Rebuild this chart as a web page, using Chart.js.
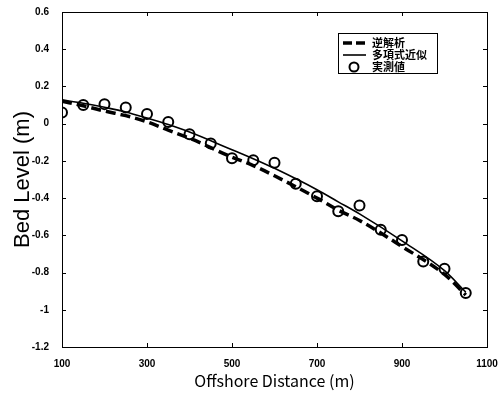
<!DOCTYPE html>
<html>
<head>
<meta charset="utf-8">
<script src="https://cdn.jsdelivr.net/npm/chart.js@4.4.1/dist/chart.umd.min.js"></script>
<style>
  html, body { margin: 0; padding: 0; background: #fff; }
  #wrap { width: 504px; height: 393px; }
</style>
</head>
<body>
<div id="wrap"><canvas id="chart"></canvas></div>
<script>
// offshore distance (m) of each survey point
const distances = [100, 150, 200, 250, 300, 350, 400, 450, 500, 550,
                   600, 650, 700, 750, 800, 850, 900, 950, 1000, 1050];
// 実測値 (measured bed level, m)
const measured = [0.06, 0.10, 0.105, 0.087, 0.052, 0.009, -0.057, -0.107, -0.186, -0.197,
                  -0.21, -0.323, -0.39, -0.47, -0.44, -0.57, -0.625, -0.74, -0.78, -0.91];
// 逆解析 (inverse analysis)
const inverseX = [100, 150, 200, 250, 300, 350, 400, 500, 550, 600, 700, 750, 800, 900, 1000, 1050];
const inverseY = [0.12, 0.096, 0.068, 0.043, 0.01, -0.035, -0.078, -0.18, -0.225, -0.28, -0.40, -0.465, -0.52, -0.66, -0.81, -0.92];
// 多項式近似 (polynomial fit)
const polyX = [100, 150, 200, 250, 300, 350, 400, 500, 550, 600, 700, 750, 800, 900, 1000, 1050];
const polyY = [0.128, 0.11, 0.088, 0.063, 0.03, -0.005, -0.045, -0.14, -0.188, -0.24, -0.355, -0.42, -0.485, -0.63, -0.79, -0.905];

const xTicks = [100, 300, 500, 700, 900, 1100];
const yTicks = [0.6, 0.4, 0.2, 0, -0.2, -0.4, -0.6, -0.8, -1, -1.2];

const legendLabels = ['逆解析', '多項式近似', '実測値'];

const toPoints = (xs, ys) => xs.map((x, i) => ({ x: x, y: ys[i] }));

const tickFont = { family: 'Liberation Sans, Arial, sans-serif', size: 10, weight: 'bold' };

// frame + inward ticks + boxed legend
const framePlugin = {
    id: 'frame',
    afterDraw(chart) {
        const ctx = chart.ctx;
        const a = chart.chartArea;
        const xs = chart.scales.x;
        const ys = chart.scales.y;
        ctx.save();
        ctx.strokeStyle = '#000';
        ctx.lineWidth = 1;
        ctx.strokeRect(a.left + 0.5, a.top + 0.5, a.right - a.left, a.bottom - a.top);
        ctx.beginPath();
        xTicks.forEach(v => {
            const px = Math.round(xs.getPixelForValue(v)) + 0.5;
            ctx.moveTo(px, a.bottom); ctx.lineTo(px, a.bottom - 4);
            ctx.moveTo(px, a.top); ctx.lineTo(px, a.top + 4);
        });
        yTicks.forEach(v => {
            const py = Math.round(ys.getPixelForValue(v)) + 0.5;
            ctx.moveTo(a.left, py); ctx.lineTo(a.left + 4, py);
            ctx.moveTo(a.right, py); ctx.lineTo(a.right - 4, py);
        });
        ctx.stroke();

        // legend box
        const bx = 338, by = 33, bw = 99, bh = 40;
        ctx.fillStyle = '#fff';
        ctx.fillRect(bx, by, bw, bh);
        ctx.strokeRect(bx + 0.5, by + 0.5, bw, bh);
        const ds = chart.data.datasets;
        const rows = [by + 10, by + 22, by + 34];
        // dashed
        ctx.lineWidth = ds[0].borderWidth;
        ctx.setLineDash([9, 4]);
        ctx.beginPath(); ctx.moveTo(343, rows[0]); ctx.lineTo(367, rows[0]); ctx.stroke();
        ctx.setLineDash([]);
        ctx.lineWidth = ds[1].borderWidth;
        ctx.beginPath(); ctx.moveTo(343, rows[1]); ctx.lineTo(366, rows[1]); ctx.stroke();
        ctx.lineWidth = ds[2].pointBorderWidth;
        ctx.beginPath(); ctx.arc(354, rows[2], ds[2].pointRadius - 0.5, 0, Math.PI * 2); ctx.stroke();
        ctx.fillStyle = '#000';
        ctx.font = 'bold 11px "Noto Sans CJK JP", sans-serif';
        ctx.textBaseline = 'middle';
        legendLabels.forEach((t, i) => ctx.fillText(t, 372, rows[i]));
        ctx.restore();
    }
};

new Chart(document.getElementById('chart'), {
    type: 'line',
    data: {
        datasets: [{
            label: legendLabels[0],
            data: toPoints(inverseX, inverseY),
            borderColor: '#000',
            borderWidth: 3.5,
            borderDash: [10, 5],
            pointRadius: 0,
            cubicInterpolationMode: 'monotone',
            fill: false
        }, {
            label: legendLabels[1],
            data: toPoints(polyX, polyY),
            borderColor: '#000',
            borderWidth: 1.6,
            pointRadius: 0,
            cubicInterpolationMode: 'monotone',
            fill: false
        }, {
            label: legendLabels[2],
            data: toPoints(distances, measured),
            showLine: false,
            pointStyle: 'circle',
            pointRadius: 5,
            pointBorderWidth: 2,
            pointBorderColor: '#000',
            pointBackgroundColor: 'rgba(255,255,255,0)'
        }]
    },
    options: {
        responsive: true,
        maintainAspectRatio: false,
        animation: false,
        layout: { padding: { top: 12, right: 0, left: 0, bottom: 0 } },
        plugins: {
            legend: { display: false },
            tooltip: { enabled: false }
        },
        scales: {
            x: {
                type: 'linear',
                min: 100,
                max: 1100,
                afterBuildTicks: s => { s.ticks = xTicks.map(v => ({ value: v })); },
                afterFit: s => { s.height = 46; },
                grid: { display: false },
                border: { display: false },
                ticks: {
                    font: tickFont,
                    color: '#000',
                    padding: 3,
                    maxRotation: 0,
                    callback: v => String(v)
                },
                title: {
                    display: true,
                    text: 'Offshore Distance (m)',
                    font: { family: '"Noto Sans CJK JP", sans-serif', size: 16 },
                    color: '#000',
                    padding: { top: 0, bottom: 2 }
                }
            },
            y: {
                type: 'linear',
                min: -1.2,
                max: 0.6,
                afterBuildTicks: s => { s.ticks = yTicks.map(v => ({ value: v })); },
                afterFit: s => { s.width = 62; },
                grid: { display: false },
                border: { display: false },
                ticks: {
                    font: tickFont,
                    color: '#000',
                    padding: 5,
                    callback: v => String(Math.round(v * 10) / 10)
                },
                title: {
                    display: true,
                    text: 'Bed Level (m)',
                    font: { family: 'Liberation Sans, Arial, sans-serif', size: 22 },
                    color: '#000',
                    padding: { top: 10, bottom: 0 }
                }
            },
            y2: {
                type: 'linear',
                position: 'right',
                min: -1.2,
                max: 0.6,
                afterFit: s => { s.width = 17; },
                grid: { display: false },
                border: { display: false },
                ticks: { display: false }
            }
        }
    },
    plugins: [framePlugin]
});
</script>
</body>
</html>
